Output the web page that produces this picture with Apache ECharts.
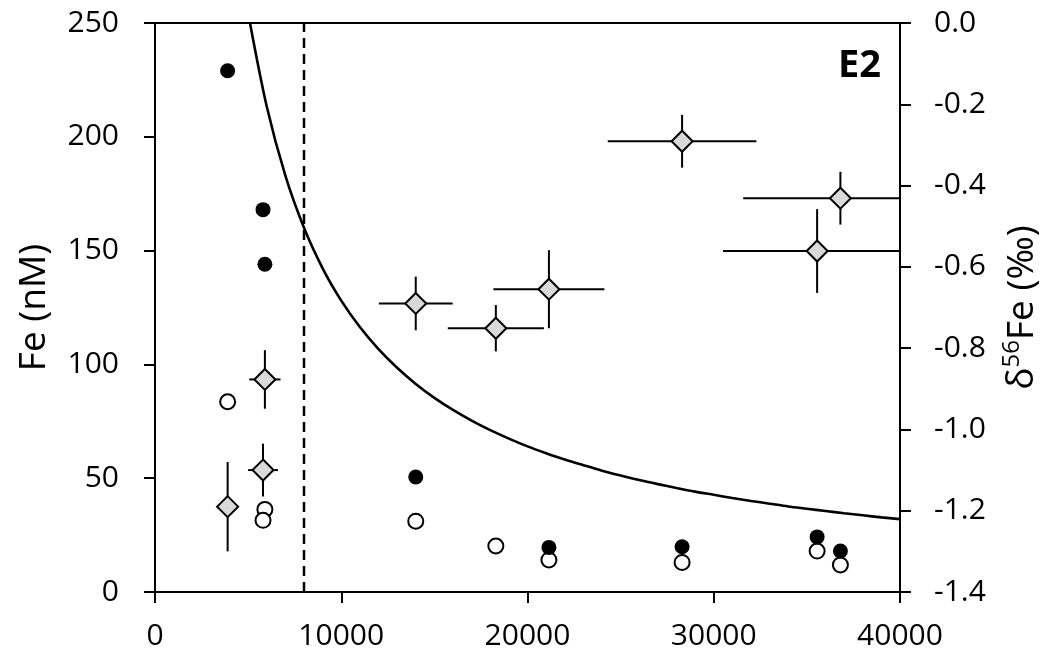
<!DOCTYPE html>
<html>
<head>
<meta charset="utf-8">
<script src="https://cdn.jsdelivr.net/npm/echarts@6/dist/echarts.min.js"></script>
<style>
html,body{margin:0;padding:0;background:#fff;}
#chart{width:1053px;height:657px;}
</style>
</head>
<body>
<div id="chart"></div>
<script>
// ---- data ----
const xTicks = [0, 10000, 20000, 30000, 40000];
const feTicks = [0, 50, 100, 150, 200, 250];
const deltaTicks = [-1.4, -1.2, -1.0, -0.8, -0.6, -0.4, -0.2, 0.0];

const filledX  = [3900, 5800, 5900, 14000, 21150, 28300, 35550, 36800];
const filledFe = [229, 168, 144, 50.5, 19.6, 19.9, 24.2, 18];

const openX  = [3900, 5900, 5800, 14000, 18300, 21150, 28300, 35550, 36800];
const openFe = [83.6, 36.3, 31.5, 31.1, 20.2, 14.1, 13, 18, 11.9];

const isoX    = [3900, 5800, 5900, 14000, 18300, 21150, 28300, 35550, 36800];
const isoD    = [-1.19, -1.10, -0.877, -0.69, -0.751, -0.655, -0.291, -0.561, -0.431];
const isoErrY = [0.11, 0.065, 0.072, 0.066, 0.057, 0.096, 0.065, 0.103, 0.065];
const isoErrX = [0, 800, 840, 1980, 2580, 2980, 3990, 5050, 5220];

const curveX  = [5100, 6000, 7000, 8000, 9000, 10000, 11000, 12000, 13000, 14000, 15000, 16000, 17000, 18000, 19000, 20000,
                 21000, 22000, 23000, 24000, 25000, 26000, 27000, 28000, 29000, 30000, 31000, 32000, 33000, 34000, 35000,
                 36000, 37000, 38000, 39000, 40000];
const curveFe = [250, 213.3, 182.9, 160, 142.2, 128, 116.4, 106.7, 98.5, 91.4, 85.3, 80, 75.3, 71.1, 67.4, 64,
                 61, 58.2, 55.7, 53.3, 51.2, 49.2, 47.4, 45.7, 44.1, 42.7, 41.3, 40, 38.8, 37.6, 36.6,
                 35.6, 34.6, 33.7, 32.8, 32];

const dashX = 8000;
const panelLabel = 'E2';

// ---- chart ----
const FONT = '"Open Sans", "Liberation Sans", sans-serif';
const chart = echarts.init(document.getElementById('chart'), null, {renderer: 'canvas'});

const filledData = filledX.map((x, i) => [x, filledFe[i]]);
const openData = openX.map((x, i) => [x, openFe[i]]);
const isoData = isoX.map((x, i) => [x, isoD[i], isoErrX[i], isoErrY[i]]);
const curveData = curveX.map((x, i) => [x, curveFe[i]]);

const axisLineStyle = {color: '#000', width: 2};

const option = {
  animation: false,
  backgroundColor: '#fff',
  textStyle: {fontFamily: FONT},
  grid: {left: 155, right: 153, top: 23, bottom: 65, show: true, borderColor: '#000', borderWidth: 2, backgroundColor: 'transparent'},
  xAxis: {
    type: 'value', min: xTicks[0], max: xTicks[xTicks.length - 1], interval: xTicks[1] - xTicks[0],
    axisLine: {show: true, lineStyle: axisLineStyle, onZero: false},
    axisTick: {show: true, inside: false, length: 11, lineStyle: axisLineStyle},
    axisLabel: {color: '#000', fontSize: 30, fontFamily: FONT, margin: 29, formatter: v => String(v)},
    splitLine: {show: false}
  },
  yAxis: [
    {
      type: 'value', min: feTicks[0], max: feTicks[feTicks.length - 1], interval: feTicks[1] - feTicks[0],
      position: 'left',
      name: 'Fe (nM)', nameLocation: 'middle', nameRotate: 90, nameGap: 102,
      nameTextStyle: {color: '#000', fontSize: 37, fontFamily: FONT},
      axisLine: {show: true, lineStyle: axisLineStyle, onZero: false},
      axisTick: {show: true, inside: false, length: 11, lineStyle: axisLineStyle},
      axisLabel: {color: '#000', fontSize: 30, fontFamily: FONT, margin: 36},
      splitLine: {show: false}
    },
    {
      type: 'value', min: deltaTicks[0], max: deltaTicks[deltaTicks.length - 1], interval: 0.2,
      position: 'right',
      name: '{m|δ}{s|56}{m|Fe (‰)}', nameLocation: 'middle', nameRotate: 90, nameGap: 100,
      nameTextStyle: {
        color: '#000', fontSize: 37, fontFamily: FONT,
        rich: {
          m: {fontSize: 37, fontFamily: FONT, color: '#000', lineHeight: 44},
          s: {fontSize: 24, fontFamily: FONT, color: '#000', verticalAlign: 'top', lineHeight: 44, padding: [0, 0, 14, 0]}
        }
      },
      axisLine: {show: true, lineStyle: axisLineStyle, onZero: false},
      axisTick: {show: true, inside: false, length: 11, lineStyle: axisLineStyle},
      axisLabel: {color: '#000', fontSize: 30, fontFamily: FONT, margin: 34, formatter: v => Number(v).toFixed(1)},
      splitLine: {show: false}
    }
  ],
  graphic: [
    {type: 'text', right: 1053 - 881, top: 47, z: 100,
     style: {text: panelLabel, font: 'bold 38px ' + FONT, fill: '#000'}}
  ],
  series: [
    {
      type: 'line', name: 'curve', data: curveData, yAxisIndex: 0,
      smooth: 0.3, showSymbol: false, symbol: 'none',
      lineStyle: {color: '#000', width: 2.6}, z: 2, clip: true
    },
    {
      type: 'line', name: 'dash', data: [[dashX, feTicks[0]], [dashX, feTicks[feTicks.length - 1]]], yAxisIndex: 0,
      showSymbol: false, symbol: 'none',
      lineStyle: {color: '#000', width: 2.5, type: [10, 6]}, z: 2
    },
    {
      type: 'custom', name: 'errbars', yAxisIndex: 1, data: isoData, clip: true, z: 3,
      renderItem: function (params, api) {
        const x = api.value(0), y = api.value(1), ex = api.value(2), ey = api.value(3);
        const top = api.coord([x, y + ey]);
        const bot = api.coord([x, y - ey]);
        const lft = api.coord([Math.max(0, x - ex), y]);
        const rgt = api.coord([Math.min(40000, x + ex), y]);
        const style = {stroke: '#000', lineWidth: 2};
        const children = [
          {type: 'line', shape: {x1: top[0], y1: top[1], x2: bot[0], y2: bot[1]}, style: style}
        ];
        if (ex > 0) children.push({type: 'line', shape: {x1: lft[0], y1: lft[1], x2: rgt[0], y2: rgt[1]}, style: style});
        return {type: 'group', children: children};
      }
    },
    {
      type: 'scatter', name: 'delta', yAxisIndex: 1, data: isoData.map(d => [d[0], d[1]]),
      symbol: 'diamond', symbolSize: [21, 21],
      itemStyle: {color: '#d9d9d9', borderColor: '#000', borderWidth: 2, opacity: 1}, z: 4
    },
    {
      type: 'scatter', name: 'open', yAxisIndex: 0, data: openData,
      symbol: 'circle', symbolSize: 15,
      itemStyle: {color: '#fff', borderColor: '#000', borderWidth: 2, opacity: 1}, z: 5
    },
    {
      type: 'scatter', name: 'filled', yAxisIndex: 0, data: filledData,
      symbol: 'circle', symbolSize: 15,
      itemStyle: {color: '#000', borderColor: '#000', borderWidth: 0, opacity: 1}, z: 6
    }
  ]
};
chart.setOption(option);
</script>
</body>
</html>
